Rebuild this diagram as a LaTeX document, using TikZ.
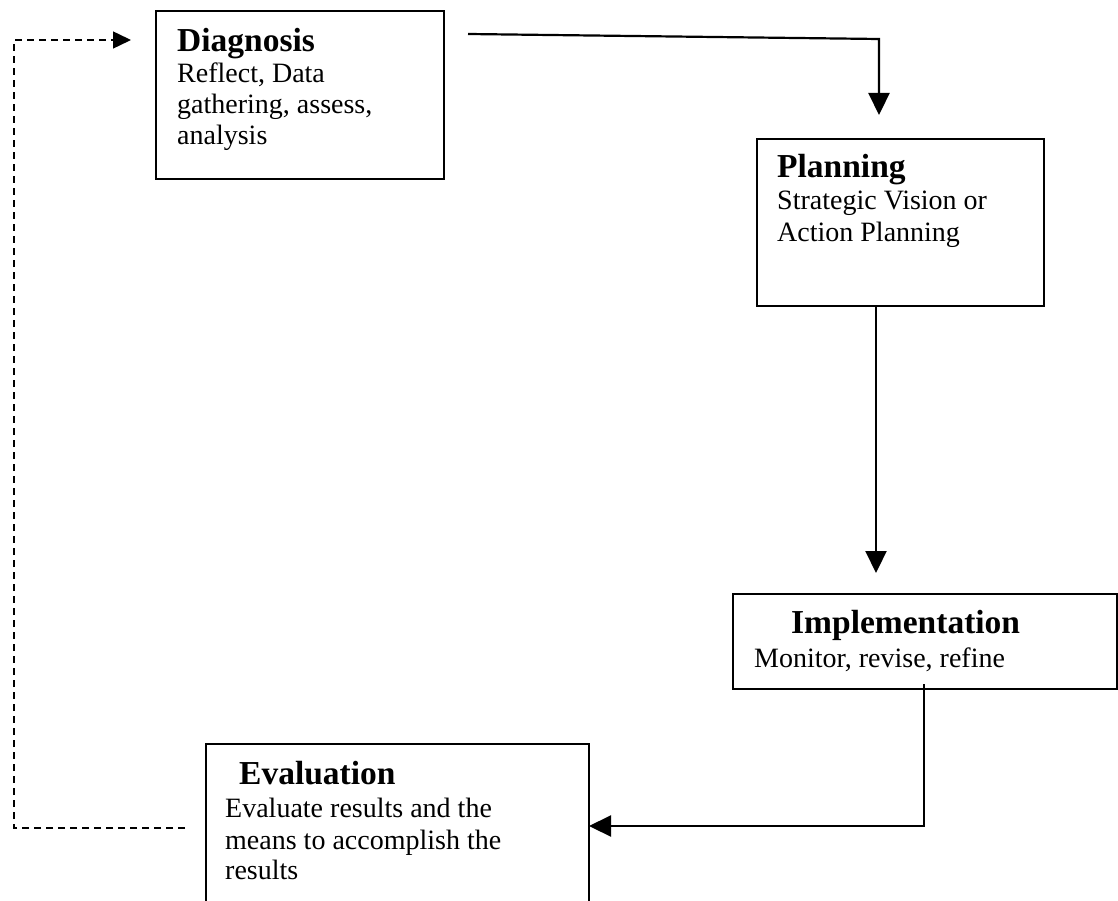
\documentclass[tikz,border=0pt]{standalone}
\usepackage{fontspec}
\setmainfont{Liberation Serif}
\usetikzlibrary{arrows.meta}
\begin{document}
\begin{tikzpicture}[x=1pt,y=-1pt,
  box/.style={draw=black,line width=1.8pt,minimum width=#1,anchor=north west,inner sep=0pt},
  ttl/.style={anchor=base west,inner sep=0pt,font=\fontsize{33.5}{33}\selectfont\bfseries},
  txt/.style={anchor=base west,inner sep=0pt,font=\fontsize{28}{31}\selectfont},
  flow/.style={line width=2.2pt,-{Triangle[length=22pt,width=21pt]}},
  back/.style={line width=1.5pt,dash pattern=on 7pt off 5pt,-{Triangle[length=18pt,width=17pt]}}]
\useasboundingbox (0,0) rectangle (1118,901);
\clip (0,0) rectangle (1118,901);
% boxes
\node[box=288pt,minimum height=168pt] (diag) at (155,10) {};
\node[box=287pt,minimum height=167pt] (plan) at (756,138) {};
\node[box=384pt,minimum height=95pt] (impl) at (732,593) {};
\node[box=383pt,minimum height=200pt] (eval) at (205,743) {};
% texts
\node[ttl] (diagT) at (177,52) {Diagnosis};
\node[txt] (diag1) at (177,83) {Reflect, Data};
\node[txt] (diag2) at (177,114) {gathering, assess,};
\node[txt] (diag3) at (177,145) {analysis};
\node[ttl] (planT) at (777,178) {Planning};
\node[txt] (plan1) at (777,210) {Strategic Vision or};
\node[txt] (plan2) at (777,241) {Action Planning};
\node[ttl] (implT) at (791,633) {Implementation};
\node[txt] (impl1) at (754,667) {Monitor, revise, refine};
\node[ttl] (evalT) at (239,784) {Evaluation};
\node[txt] (eval1) at (225,817) {Evaluate results and the};
\node[txt] (eval2) at (225,849) {means to accomplish the};
\node[txt] (eval3) at (225,879) {results};
% connector points
\coordinate (a0) at (468,34);
\coordinate (a1) at (879,39);
\coordinate (a2) at (879,115);
\coordinate (b0) at (876,305);
\coordinate (b1) at (876,573);
\coordinate (c0) at (924,684);
\coordinate (c1) at (924,826);
\coordinate (c2) at (589,826);
\coordinate (e0) at (185,828);
\coordinate (e1) at (14,828);
\coordinate (e2) at (14,40);
\coordinate (e3) at (131,40);
% connectors
\draw[flow] (a0) -- (a1) -- (a2);
\draw[flow] (b0) -- (b1);
\draw[flow] (c0) -- (c1) -- (c2);
\draw[back] (e0) -- (e1) -- (e2) -- (e3);
\end{tikzpicture}
\end{document}
